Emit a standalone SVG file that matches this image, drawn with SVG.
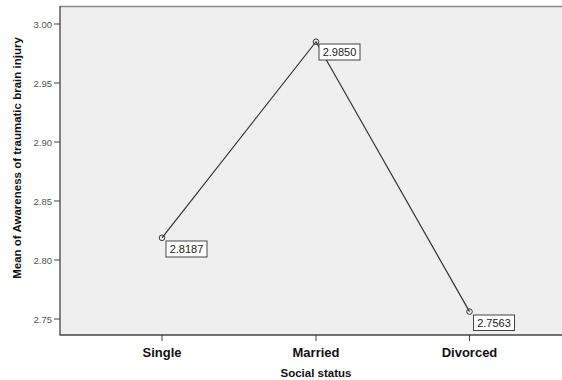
<svg xmlns="http://www.w3.org/2000/svg" width="562" height="380" viewBox="0 0 562 380">
<style>
.tick{font-family:"Liberation Sans",Arial,sans-serif;font-size:9.5px;fill:#555;text-anchor:end}
.cat{font-family:"Liberation Sans",Arial,sans-serif;font-size:13px;font-weight:bold;fill:#111;text-anchor:middle}
.ttl{font-family:"Liberation Sans",Arial,sans-serif;font-size:11.5px;font-weight:bold;fill:#111;text-anchor:middle}
.lbl{font-family:"Liberation Sans",Arial,sans-serif;font-size:11px;fill:#222;text-anchor:middle}
.box{fill:#fff;stroke:#444;stroke-width:1}
.tk{stroke:#444;stroke-width:1}
.pt{fill:none;stroke:#333;stroke-width:1}
</style>
<rect width="562" height="380" fill="#fff"/>
<g id="plot-area">
<rect x="60" y="6.5" width="503" height="328.5" fill="#efefef" stroke="none"/>
<line x1="60" y1="6.5" x2="562" y2="6.5" stroke="#888" stroke-width="1.5"/>
<line x1="60" y1="6" x2="60" y2="335" stroke="#444" stroke-width="1.3"/>
<line x1="59.5" y1="335" x2="562" y2="335" stroke="#444" stroke-width="1.3"/>
</g>
<g id="y-axis">
<line class="tk" x1="54" y1="24" x2="60" y2="24"/>
<line class="tk" x1="54" y1="83" x2="60" y2="83"/>
<line class="tk" x1="54" y1="142" x2="60" y2="142"/>
<line class="tk" x1="54" y1="201" x2="60" y2="201"/>
<line class="tk" x1="54" y1="260" x2="60" y2="260"/>
<line class="tk" x1="54" y1="319" x2="60" y2="319"/>
<text class="tick" x="52" y="27.5">3.00</text>
<text class="tick" x="52" y="86.5">2.95</text>
<text class="tick" x="52" y="145.5">2.90</text>
<text class="tick" x="52" y="204.5">2.85</text>
<text class="tick" x="52" y="263.5">2.80</text>
<text class="tick" x="52" y="322.5">2.75</text>
<text class="ttl" transform="translate(21,158) rotate(-90)">Mean of Awareness of traumatic brain injury</text>
</g>
<g id="x-axis">
<line class="tk" x1="162" y1="335" x2="162" y2="341"/>
<line class="tk" x1="316" y1="335" x2="316" y2="341"/>
<line class="tk" x1="469.5" y1="335" x2="469.5" y2="341"/>
<text class="cat" x="162" y="357">Single</text>
<text class="cat" x="316" y="357">Married</text>
<text class="cat" x="469.5" y="357">Divorced</text>
<text class="ttl" x="316" y="377">Social status</text>
</g>
<g id="connectors">
<polyline points="162,237.8 316,41.7 469.5,311.6" fill="none" stroke="#333" stroke-width="1.2"/>
</g>
<g id="point-single">
<circle class="pt" cx="162" cy="237.8" r="2.8"/>
<rect class="box" x="166" y="241" width="41" height="16"/>
<text class="lbl" x="186.5" y="253">2.8187</text>
</g>
<g id="point-married">
<circle class="pt" cx="316" cy="41.7" r="2.8"/>
<rect class="box" x="319" y="44" width="41" height="16"/>
<text class="lbl" x="339.5" y="56">2.9850</text>
</g>
<g id="point-divorced">
<circle class="pt" cx="469.5" cy="311.6" r="2.8"/>
<rect class="box" x="473.5" y="315" width="41" height="15.5"/>
<text class="lbl" x="494" y="327">2.7563</text>
</g>
</svg>
